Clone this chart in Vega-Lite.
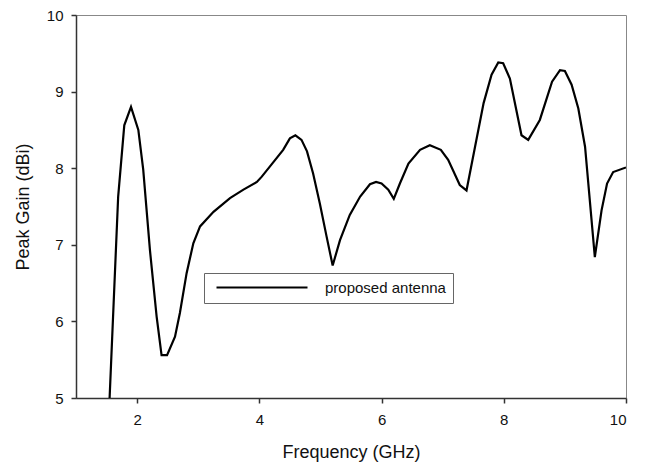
{
  "$schema": "https://vega.github.io/schema/vega-lite/v6.json",
  "autosize": {"type": "none"},
  "width": 550,
  "height": 383,
  "padding": {"left": 76, "top": 15, "right": 19, "bottom": 70},
  "background": "white",
  "data": {"values": [
    {"f": 1.55, "g": 5.0, "series": "proposed antenna"},
    {"f": 1.69, "g": 7.63, "series": "proposed antenna"},
    {"f": 1.79, "g": 8.56, "series": "proposed antenna"},
    {"f": 1.90, "g": 8.80, "series": "proposed antenna"},
    {"f": 2.02, "g": 8.50, "series": "proposed antenna"},
    {"f": 2.10, "g": 7.98, "series": "proposed antenna"},
    {"f": 2.21, "g": 6.93, "series": "proposed antenna"},
    {"f": 2.32, "g": 6.06, "series": "proposed antenna"},
    {"f": 2.40, "g": 5.56, "series": "proposed antenna"},
    {"f": 2.49, "g": 5.56, "series": "proposed antenna"},
    {"f": 2.62, "g": 5.80, "series": "proposed antenna"},
    {"f": 2.70, "g": 6.11, "series": "proposed antenna"},
    {"f": 2.81, "g": 6.63, "series": "proposed antenna"},
    {"f": 2.92, "g": 7.02, "series": "proposed antenna"},
    {"f": 3.03, "g": 7.24, "series": "proposed antenna"},
    {"f": 3.25, "g": 7.43, "series": "proposed antenna"},
    {"f": 3.52, "g": 7.61, "series": "proposed antenna"},
    {"f": 3.74, "g": 7.72, "series": "proposed antenna"},
    {"f": 3.96, "g": 7.82, "series": "proposed antenna"},
    {"f": 4.04, "g": 7.89, "series": "proposed antenna"},
    {"f": 4.23, "g": 8.08, "series": "proposed antenna"},
    {"f": 4.39, "g": 8.24, "series": "proposed antenna"},
    {"f": 4.50, "g": 8.39, "series": "proposed antenna"},
    {"f": 4.59, "g": 8.43, "series": "proposed antenna"},
    {"f": 4.69, "g": 8.37, "series": "proposed antenna"},
    {"f": 4.78, "g": 8.22, "series": "proposed antenna"},
    {"f": 4.88, "g": 7.93, "series": "proposed antenna"},
    {"f": 4.99, "g": 7.54, "series": "proposed antenna"},
    {"f": 5.10, "g": 7.11, "series": "proposed antenna"},
    {"f": 5.20, "g": 6.73, "series": "proposed antenna"},
    {"f": 5.32, "g": 7.06, "series": "proposed antenna"},
    {"f": 5.48, "g": 7.39, "series": "proposed antenna"},
    {"f": 5.65, "g": 7.63, "series": "proposed antenna"},
    {"f": 5.81, "g": 7.79, "series": "proposed antenna"},
    {"f": 5.91, "g": 7.82, "series": "proposed antenna"},
    {"f": 6.00, "g": 7.80, "series": "proposed antenna"},
    {"f": 6.11, "g": 7.72, "series": "proposed antenna"},
    {"f": 6.20, "g": 7.60, "series": "proposed antenna"},
    {"f": 6.30, "g": 7.80, "series": "proposed antenna"},
    {"f": 6.44, "g": 8.06, "series": "proposed antenna"},
    {"f": 6.63, "g": 8.24, "series": "proposed antenna"},
    {"f": 6.79, "g": 8.30, "series": "proposed antenna"},
    {"f": 6.97, "g": 8.24, "series": "proposed antenna"},
    {"f": 7.09, "g": 8.11, "series": "proposed antenna"},
    {"f": 7.28, "g": 7.78, "series": "proposed antenna"},
    {"f": 7.39, "g": 7.71, "series": "proposed antenna"},
    {"f": 7.53, "g": 8.28, "series": "proposed antenna"},
    {"f": 7.67, "g": 8.85, "series": "proposed antenna"},
    {"f": 7.80, "g": 9.22, "series": "proposed antenna"},
    {"f": 7.91, "g": 9.38, "series": "proposed antenna"},
    {"f": 7.99, "g": 9.37, "series": "proposed antenna"},
    {"f": 8.10, "g": 9.17, "series": "proposed antenna"},
    {"f": 8.29, "g": 8.43, "series": "proposed antenna"},
    {"f": 8.40, "g": 8.37, "series": "proposed antenna"},
    {"f": 8.59, "g": 8.63, "series": "proposed antenna"},
    {"f": 8.79, "g": 9.13, "series": "proposed antenna"},
    {"f": 8.92, "g": 9.28, "series": "proposed antenna"},
    {"f": 9.00, "g": 9.27, "series": "proposed antenna"},
    {"f": 9.11, "g": 9.09, "series": "proposed antenna"},
    {"f": 9.22, "g": 8.78, "series": "proposed antenna"},
    {"f": 9.33, "g": 8.28, "series": "proposed antenna"},
    {"f": 9.49, "g": 6.84, "series": "proposed antenna"},
    {"f": 9.60, "g": 7.45, "series": "proposed antenna"},
    {"f": 9.69, "g": 7.80, "series": "proposed antenna"},
    {"f": 9.79, "g": 7.95, "series": "proposed antenna"},
    {"f": 10.0, "g": 8.01, "series": "proposed antenna"}
  ]},
  "mark": {"type": "line", "strokeWidth": 2.2, "clip": true},
  "encoding": {
    "x": {
      "field": "f", "type": "quantitative",
      "scale": {"domain": [1, 10], "nice": false, "zero": false},
      "axis": {"values": [2, 4, 6, 8, 10], "title": "Frequency (GHz)", "grid": false, "labelPadding": 9, "titlePadding": 16}
    },
    "y": {
      "field": "g", "type": "quantitative",
      "scale": {"domain": [5, 10], "nice": false, "zero": false},
      "axis": {"values": [5, 6, 7, 8, 9, 10], "title": "Peak Gain (dBi)", "grid": false, "labelPadding": 8, "titlePadding": 14}
    },
    "color": {
      "field": "series", "type": "nominal",
      "scale": {"range": ["black"]},
      "legend": {
        "title": null,
        "orient": "none",
        "legendX": 128,
        "legendY": 258,
        "direction": "vertical",
        "symbolType": "M-0.4,0L17.8,0",
        "symbolSize": 100,
        "symbolStrokeWidth": 2,
        "symbolStrokeColor": "black",
        "symbolFillColor": "transparent",
        "labelOffset": 99,
        "labelFontSize": 15,
        "labelFont": "Liberation Sans",
        "labelColor": "#111",
        "padding": 7,
        "strokeColor": "#666",
        "fillColor": "white"
      }
    }
  },
  "config": {
    "view": {"stroke": "#888", "strokeWidth": 1},
    "axis": {
      "domainColor": "#333",
      "domainWidth": 1.5,
      "tickColor": "#333",
      "tickSize": 5,
      "tickWidth": 1.5,
      "labelFont": "Liberation Sans",
      "labelFontSize": 15,
      "labelColor": "#111",
      "titleFont": "Liberation Sans",
      "titleFontSize": 18,
      "titleFontWeight": "normal",
      "titleColor": "#111"
    }
  }
}
